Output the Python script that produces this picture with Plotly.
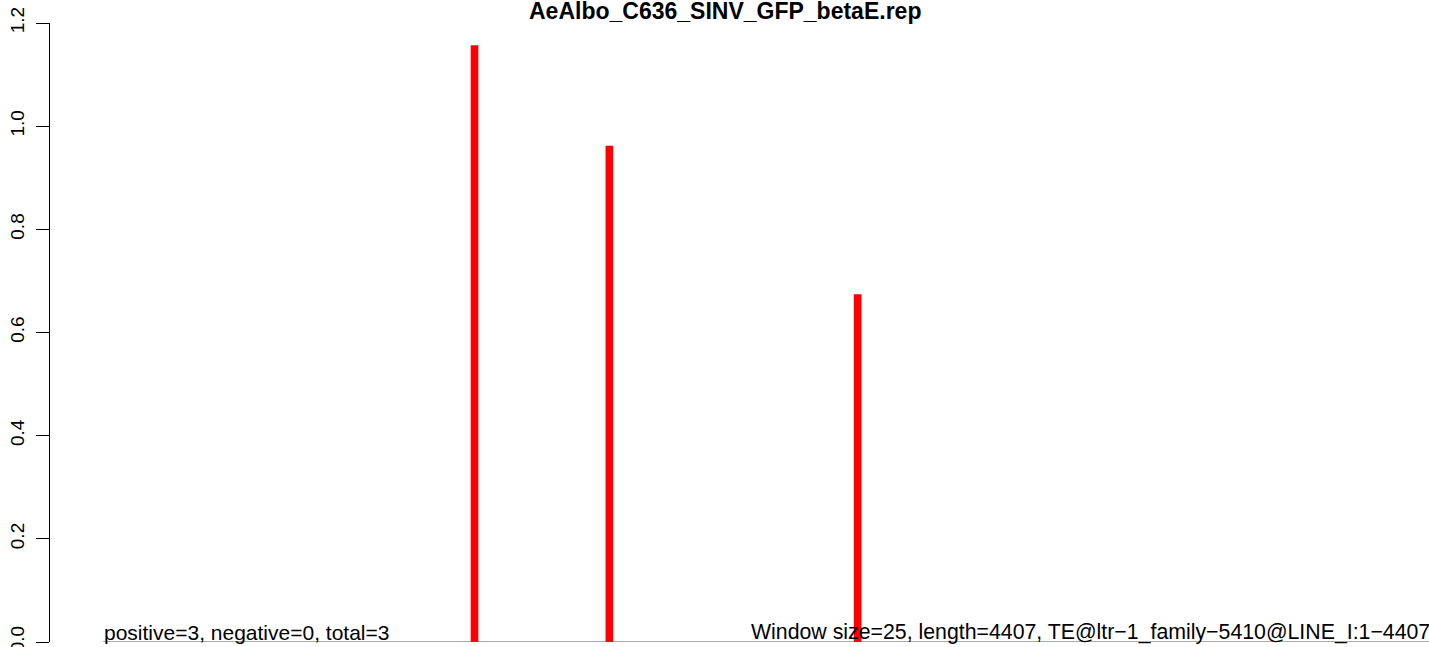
import plotly.graph_objects as go

title = "AeAlbo_C636_SINV_GFP_betaE.rep"
window_size = 25
seq_length = 4407
positions = [1212, 1652, 2462]
values = [1.157, 0.962, 0.674]
y_ticks = [0, 0.2, 0.4, 0.6, 0.8, 1.0, 1.2]
y_ticklabels = ["0.0", "0.2", "0.4", "0.6", "0.8", "1.0", "1.2"]
left_note = "positive=3, negative=0, total=3"
right_note = "Window size=25, length=4407, TE@ltr\u22121_family\u22125410@LINE_I:1\u22124407"

FONT = "Liberation Sans, Arial, Helvetica, sans-serif"

fig = go.Figure()
fig.add_trace(go.Scatter(x=[0, seq_length], y=[0, 0], mode="lines",
                         line=dict(color="#555555", width=1), hoverinfo="skip",
                         showlegend=False, cliponaxis=False))
fig.add_trace(go.Bar(x=positions, y=values, width=window_size,
                     marker=dict(color="#ff0000", line=dict(width=0)),
                     showlegend=False))

fig.update_layout(
    width=1429, height=647,
    margin=dict(l=50, r=0, t=23, b=5, pad=0),
    paper_bgcolor="white", plot_bgcolor="white",
    font=dict(family=FONT, color="black"),
    xaxis=dict(range=[-173, 4326], visible=False, showgrid=False, zeroline=False,
               automargin=False),
    yaxis=dict(range=[0, 1.2], tickvals=y_ticks, ticktext=y_ticklabels,
               tickangle=-90, ticks="outside", ticklen=13, tickwidth=1,
               tickcolor="black", showline=True, linecolor="black", linewidth=1,
               showgrid=False, zeroline=False, tickfont=dict(size=19, family=FONT),
               ticklabelstandoff=4, automargin=False, ticklabeloverflow="allow"),
    annotations=[
        dict(text="<b>" + title + "</b>", xref="paper", yref="paper",
             x=0.4895, y=1.02, xanchor="center", yanchor="middle",
             showarrow=False, font=dict(size=23, family=FONT)),
        dict(text=left_note, xref="x", yref="y", x=0, y=0,
             xanchor="left", yanchor="bottom", showarrow=False,
             font=dict(size=21, family=FONT), borderpad=0, yshift=-3),
        dict(text=right_note, xref="x", yref="y", x=2111, y=0,
             xanchor="left", yanchor="bottom", showarrow=False,
             font=dict(size=21.3, family=FONT), borderpad=0, yshift=-3),
    ],
)

fig.write_html("out.html", config={"displayModeBar": False},
               post_script="document.body.style.margin='0';document.body.style.overflow='hidden';")
